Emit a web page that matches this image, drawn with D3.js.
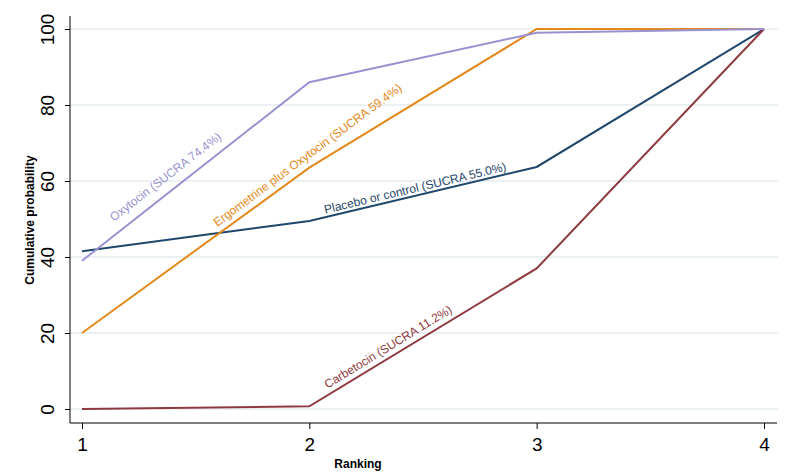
<!DOCTYPE html>
<html><head><meta charset="utf-8">
<script src="https://cdn.jsdelivr.net/npm/d3@7"></script>
<style>body{margin:0;background:#fff}svg{display:block}text{font-family:"Liberation Sans",Arial,sans-serif}</style>
</head><body><svg id="c" width="788" height="472"></svg>
<script>
const ranks = [1, 2, 3, 4];
const yTicks = [0, 20, 40, 60, 80, 100];
const seriesNames = ["Oxytocin", "Ergometrine plus Oxytocin", "Placebo or control", "Carbetocin"];
const sucra = ["74.4%", "59.4%", "55.0%", "11.2%"];
const oxytocin = [39, 86, 99, 100];
const ergometrine = [20, 63.5, 100, 100];
const placebo = [41.5, 49.5, 63.7, 100];
const carbetocin = [0, 0.7, 37, 100];
const colors = ["#9a92d0", "#e3891a", "#1f476b", "#8e3a40"];
// label anchors in data units (rank, value) and rotation angles
const labelRank = [1.14, 1.595, 2.07, 2.08];
const labelValue = [49.3, 47.9, 51.4, 5.3];
const labelAngle = [-37.5, -36.5, -13.4, -31.5];

const svg = d3.select("#c");
const x = d3.scaleLinear().domain([1, 4]).range([82, 764]);
const y = d3.scaleLinear().domain([0, 100]).range([409, 29]);

// gridlines
svg.append("g").selectAll("line").data(yTicks).join("line")
  .attr("x1", 70).attr("x2", 778).attr("y1", d => y(d)).attr("y2", d => y(d))
  .attr("stroke", "#e4ecef").attr("stroke-width", 1.5);

// y axis
const ya = svg.append("g").attr("transform", "translate(70,0)")
  .call(d3.axisLeft(y).tickValues(yTicks).tickSize(5));
ya.select(".domain").attr("d", "M0,16V423").attr("stroke", "#000");
ya.selectAll(".tick line").attr("stroke", "#000");
ya.selectAll(".tick text").attr("font-size", 19).attr("fill", "#000")
  .attr("text-anchor", "middle").attr("x", 0).attr("y", 0).attr("dy", "0.35em")
  .attr("transform", "translate(-23,0) rotate(-90)");

// x axis
const xa = svg.append("g").attr("transform", "translate(0,423)")
  .call(d3.axisBottom(x).tickValues(ranks).tickFormat(d3.format("d")).tickSize(6).tickPadding(9));
xa.select(".domain").attr("d", "M70,0H777").attr("stroke", "#000");
xa.selectAll(".tick line").attr("stroke", "#000");
xa.selectAll(".tick text").attr("font-size", 19).attr("fill", "#000");

// axis titles
svg.append("text").attr("x", 358).attr("y", 468).attr("text-anchor", "middle")
  .attr("font-size", 12).attr("font-weight", "bold").text("Ranking");
svg.append("text").attr("transform", "translate(34,220) rotate(-90)").attr("text-anchor", "middle")
  .attr("font-size", 12).attr("font-weight", "bold").text("Cumulative probability");

const all = [oxytocin, ergometrine, placebo, carbetocin];
const line = d3.line().x((d, i) => x(ranks[i])).y(d => y(d));
svg.append("g").selectAll("path").data([2, 3, 1, 0]).join("path")
  .attr("d", i => line(all[i])).attr("fill", "none")
  .attr("stroke", i => colors[i]).attr("stroke-width", 2);

svg.append("g").selectAll("text").data(d3.range(4)).join("text")
  .attr("transform", i => `translate(${x(labelRank[i])},${y(labelValue[i])}) rotate(${labelAngle[i]})`)
  .attr("font-size", 12).attr("fill", i => colors[i])
  .text(i => `${seriesNames[i]} (SUCRA ${sucra[i]})`);
</script></body></html>
